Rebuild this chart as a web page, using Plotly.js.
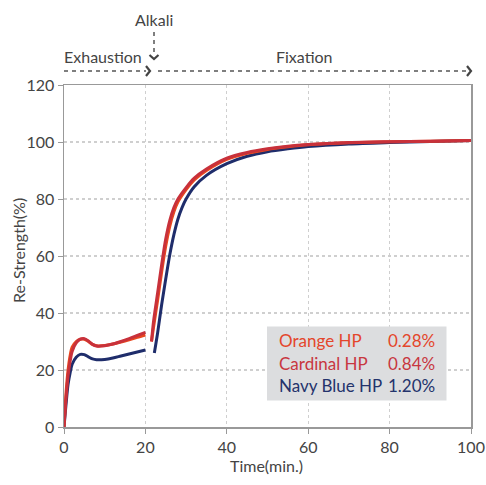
<!DOCTYPE html>
<html><head><meta charset="utf-8">
<script src="https://cdn.plot.ly/plotly-3.0.1.min.js"></script>
<style>body{margin:0;background:#fff}#c{width:486px;height:485px}</style>
</head><body><div id="c"></div>
<script>
// Exhaustion phase (0-20 min)
const exTime = [0, 0.5, 1, 1.5, 2, 3, 4, 5, 6, 7, 8, 10, 12, 14, 16, 18, 20];
const exOrange = [0, 12, 20, 25, 28, 30, 30.8, 30.8, 30, 29, 28.5, 28.6, 29.1, 29.8, 30.6, 31.5, 32.3];
const exCardinal = [0, 10, 18, 23, 26.5, 29.5, 30.8, 31.0, 30.2, 29.0, 28.4, 28.5, 29.1, 30.0, 31.0, 32.1, 33.2];
const exNavy = [0, 8, 15, 19, 22, 24.5, 25.5, 25.4, 24.6, 23.9, 23.6, 23.7, 24.2, 24.9, 25.6, 26.3, 27.0];
// Fixation phase
const fxTimeRed = [21.5, 22, 23, 24, 25, 26, 27, 28, 30, 32, 35, 40, 45, 50, 55, 60, 70, 80, 90, 100];
const fxCardinal = [30, 37, 47, 57, 66, 72.5, 77, 80, 84, 87.3, 90.5, 94.3, 96.3, 97.6, 98.5, 99.1, 99.8, 100.1, 100.3, 100.5];
const fxOrange = [30, 35, 44.5, 54.5, 63.5, 70.5, 75.5, 79, 83.3, 86.7, 90, 93.9, 96, 97.4, 98.3, 99, 99.7, 100.1, 100.3, 100.5];
const fxTimeNavy = [22.2, 23, 24, 25, 26, 27, 28, 29, 30, 32, 35, 40, 45, 50, 55, 60, 70, 80, 90, 100];
const fxNavy = [26, 33, 43, 52, 60.5, 67.5, 73, 77, 80, 84.3, 88.3, 92.4, 95, 96.6, 97.6, 98.4, 99.3, 99.8, 100.2, 100.5];
const names = ["Orange HP", "Cardinal HP", "Navy Blue HP"];
const percents = ["0.28%", "0.84%", "1.20%"];
const colors = ["#e8471f", "#c8313b", "#1f2d6b"];
const textColors = ["#e4462b", "#c8373f", "#24336c"];

const FONT = "Lato, Noto Sans, sans-serif";
function tr(x, y, c) {
  return {x: x, y: y, mode: "lines", line: {color: c, width: 3, shape: "spline", smoothing: 0.8}, showlegend: false, hoverinfo: "skip"};
}
const data = [
  tr(exTime, exNavy, colors[2]),
  tr(fxTimeNavy, fxNavy, colors[2]),
  tr(exTime, exOrange, colors[0]),
  tr(fxTimeRed, fxOrange, colors[0]),
  tr(exTime, exCardinal, colors[1]),
  tr(fxTimeRed, fxCardinal, colors[1])
];

// paper coordinate helpers (plot area: x 64..471, y 85..427)
const px = p => (p - 64) / 407;
const py = p => (427 - p) / 342;
const dashLine = {color: "#555", width: 1.5, dash: "4px,4px"};
const solid = {color: "#444", width: 2.2};
const shapes = [
  {type: "rect", xref: "paper", yref: "paper", x0: px(267), x1: px(446.5), y0: py(400.5), y1: py(326.5), fillcolor: "#dcdddf", line: {width: 0}, layer: "above"},
  // exhaustion arrow
  {type: "line", xref: "paper", yref: "paper", x0: px(64), x1: px(146), y0: py(71), y1: py(71), line: dashLine},
  {type: "path", xref: "paper", yref: "paper", path: `M ${px(146)} ${py(66)} L ${px(150)} ${py(71)} L ${px(146)} ${py(76)}`, line: solid},
  // fixation arrow
  {type: "line", xref: "paper", yref: "paper", x0: px(158), x1: px(466), y0: py(71), y1: py(71), line: dashLine},
  {type: "path", xref: "paper", yref: "paper", path: `M ${px(467)} ${py(66)} L ${px(471)} ${py(71)} L ${px(467)} ${py(76)}`, line: solid},
  // alkali arrow
  {type: "line", xref: "paper", yref: "paper", x0: px(154), x1: px(154), y0: py(32), y1: py(53), line: dashLine},
  {type: "path", xref: "paper", yref: "paper", path: `M ${px(149.5)} ${py(55)} L ${px(154)} ${py(59)} L ${px(158.5)} ${py(55)}`, line: solid}
];
const rowY = [340, 363, 385];
const annotations = [
  {xref: "paper", yref: "paper", x: px(154), y: py(19), text: "Alkali", showarrow: false, font: {family: FONT, size: 16, color: "#444"}, xanchor: "center", yanchor: "middle"},
  {xref: "paper", yref: "paper", x: px(62), y: py(57), text: "Exhaustion", showarrow: false, font: {family: FONT, size: 16, color: "#444"}, xanchor: "left", yanchor: "middle"},
  {xref: "paper", yref: "paper", x: px(304), y: py(57), text: "Fixation", showarrow: false, font: {family: FONT, size: 16, color: "#444"}, xanchor: "center", yanchor: "middle"},
  {xref: "paper", yref: "paper", x: px(18), y: py(251), text: "Re-Strength(%)", textangle: -90, showarrow: false, font: {family: FONT, size: 16, color: "#444"}, xanchor: "center", yanchor: "middle"},
  {xref: "paper", yref: "paper", x: px(266), y: py(466), text: "Time(min.)", showarrow: false, font: {family: FONT, size: 16, color: "#444"}, xanchor: "center", yanchor: "middle"}
];
for (let i = 0; i < 3; i++) {
  annotations.push({xref: "paper", yref: "paper", x: px(277), y: py(rowY[i]), text: names[i], showarrow: false, font: {family: FONT, size: 17, color: textColors[i]}, xanchor: "left", yanchor: "middle"});
  annotations.push({xref: "paper", yref: "paper", x: px(437), y: py(rowY[i]), text: percents[i], showarrow: false, font: {family: FONT, size: 17, color: textColors[i]}, xanchor: "right", yanchor: "middle"});
}

const layout = {
  width: 486, height: 485,
  margin: {l: 64, r: 15, t: 85, b: 58},
  paper_bgcolor: "#fff", plot_bgcolor: "#fff",
  font: {family: FONT, color: "#444", size: 15},
  xaxis: {range: [0, 100], tickvals: [0, 20, 40, 60, 80, 100], showgrid: true, gridcolor: "#cfcfcf", griddash: "dot", gridwidth: 1.2,
    showline: true, linecolor: "#999", linewidth: 1.5, mirror: true, ticks: "outside", ticklen: 5, tickcolor: "#999", zeroline: false,
    tickfont: {size: 16, color: "#444"}},
  yaxis: {range: [0, 120], tickvals: [0, 20, 40, 60, 80, 100, 120], showgrid: true, gridcolor: "#cfcfcf", griddash: "dot", gridwidth: 1.2,
    showline: true, linecolor: "#999", linewidth: 1.5, mirror: true, ticks: "outside", ticklen: 5, tickcolor: "#999", zeroline: false,
    tickfont: {size: 16, color: "#444"}},
  shapes: shapes, annotations: annotations
};
Plotly.newPlot("c", data, layout, {displayModeBar: false, staticPlot: true});
</script></body></html>
